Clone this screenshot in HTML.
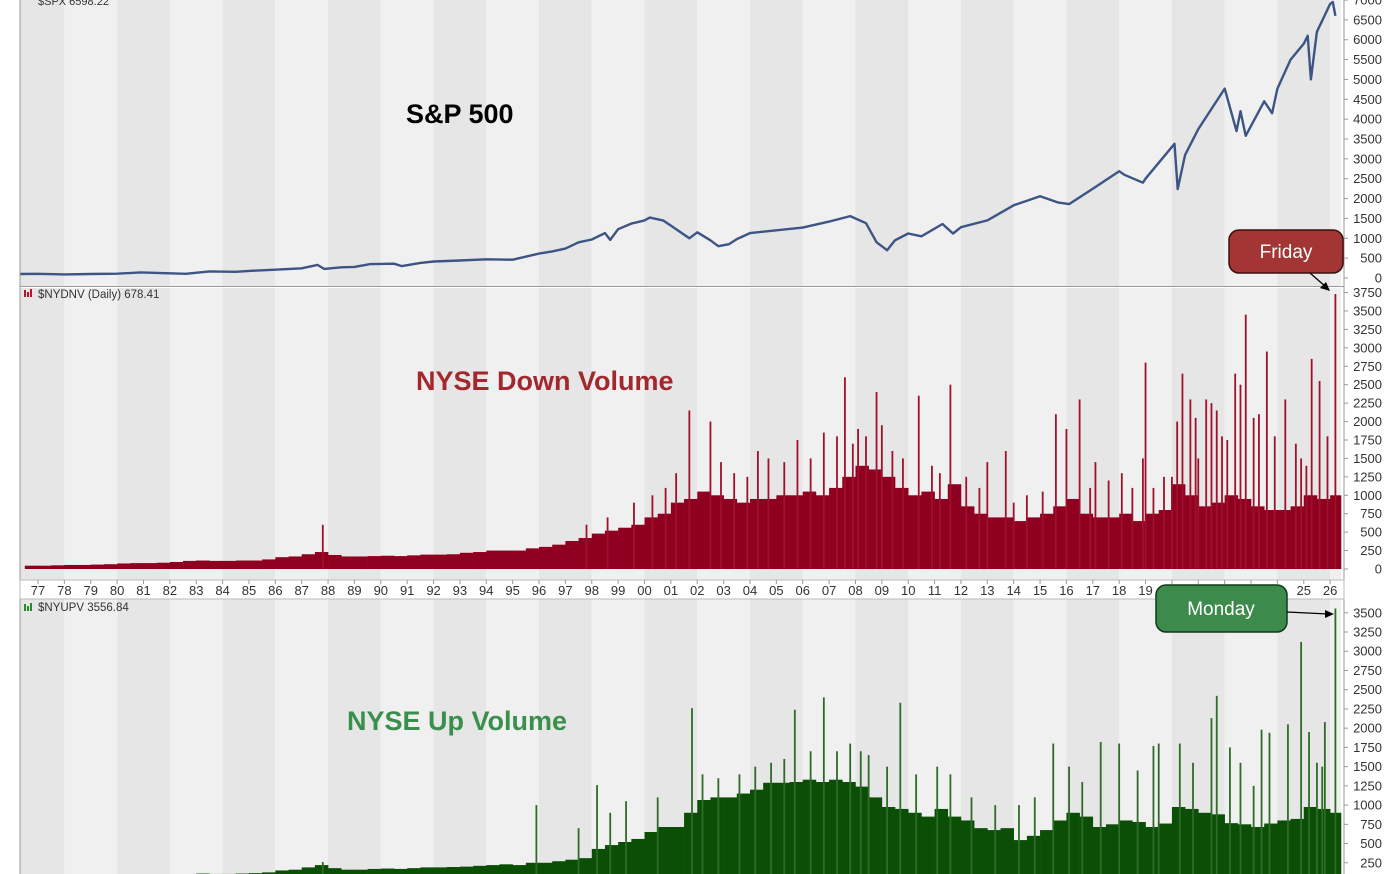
<!DOCTYPE html>
<html><head><meta charset="utf-8"><style>
html,body{margin:0;padding:0;background:#fff;}
svg{display:block;font-family:"Liberation Sans",Arial,sans-serif;}
</style></head><body>
<svg id="chart" width="1400" height="874" viewBox="0 0 1400 874" xmlns="http://www.w3.org/2000/svg">
<g id="bands"></g>
<g id="spx"></g>
<g id="down"></g>
<g id="up"></g>
<g id="axes"></g>
<text x="406" y="123" font-size="27" font-weight="bold" fill="#000">S&amp;P 500</text>
<text x="416" y="390" font-size="27" font-weight="bold" fill="#a3282d">NYSE Down Volume</text>
<text x="347" y="730" font-size="27" font-weight="bold" fill="#3a8f4c">NYSE Up Volume</text>
<g>
<rect x="1229" y="230" width="114" height="43" rx="10" fill="#a33535" stroke="#3a1010" stroke-width="1.5"/>
<text x="1286" y="258" font-size="19" fill="#fff" text-anchor="middle">Friday</text>
<line x1="1310" y1="273" x2="1326" y2="287" stroke="#000" stroke-width="1.3"/>
<polygon points="1330,291 1320,288 1326,282" fill="#000"/>
</g>
<g>
<rect x="1156" y="585" width="131" height="47" rx="10" fill="#3c8a4c" stroke="#103a18" stroke-width="1.5"/>
<text x="1221" y="615" font-size="19" fill="#fff" text-anchor="middle">Monday</text>
<line x1="1287" y1="612" x2="1328" y2="614" stroke="#000" stroke-width="1.3"/>
<polygon points="1334,614 1325,610 1325,618" fill="#000"/>
</g>
</svg>
<script>
const spxDates=[1976.3,1977,1978,1979,1980,1980.9,1982.6,1983.5,1984.5,1985,1986,1987,1987.6,1987.85,1988.5,1989,1989.6,1990.5,1990.8,1991.5,1992,1993,1994,1995,1996,1996.5,1997,1997.5,1998,1998.5,1998.7,1999,1999.5,2000,2000.2,2000.7,2001,2001.7,2002,2002.5,2002.8,2003.2,2003.5,2004,2005,2006,2007,2007.8,2008.4,2008.8,2009.2,2009.5,2010,2010.5,2011.3,2011.7,2012,2013,2014,2015,2015.7,2016.1,2017,2018,2018.2,2018.9,2019,2020.1,2020.22,2020.5,2021,2022,2022.45,2022.6,2022.8,2023.5,2023.8,2024,2024.5,2025,2025.15,2025.27,2025.5,2026,2026.1,2026.2];
const spxValues=[100,105,90,100,108,140,105,165,155,180,210,245,330,230,270,280,350,360,300,380,415,440,470,460,615,670,740,900,970,1130,960,1230,1370,1450,1520,1450,1320,1000,1150,950,800,850,980,1130,1200,1270,1420,1560,1380,900,700,950,1120,1050,1360,1120,1280,1450,1830,2060,1900,1860,2250,2690,2600,2400,2500,3380,2240,3100,3750,4770,3700,4200,3580,4450,4150,4770,5500,5900,6100,5000,6200,6900,6950,6600];
const spxTicks=[0,500,1000,1500,2000,2500,3000,3500,4000,4500,5000,5500,6000,6500,7000];
const volStart=1976.5;
const downBase=[45,45,50,55,55,60,65,75,80,80,85,95,110,115,110,110,115,115,130,160,170,200,230,190,170,170,175,180,175,185,195,195,200,220,230,250,250,250,280,300,330,380,420,480,520,560,600,700,750,900,950,1050,1000,950,900,950,950,1000,1000,1050,1000,1100,1250,1400,1350,1250,1100,1000,1050,950,1150,850,750,700,700,650,700,750,850,950,750,700,700,750,650,750,800,1150,1000,850,900,1000,950,850,800,800,850,1000,950,1000];
const downSpikes=[[1987.8,600],[1997.8,600],[1998.6,700],[2000.3,1000],[2001.7,2150],[2002.5,2000],[2004.3,1600],[2005.8,1750],[2006.8,1850],[2007.3,1800],[2007.6,2600],[2008.1,1900],[2008.8,2400],[2009.0,1950],[2010.4,2350],[2011.6,2500],[2013.0,1450],[2013.7,1600],[2014.0,900],[2015.6,2100],[2016.0,1900],[2016.5,2300],[2017.1,1450],[2017.6,1200],[2018.1,1300],[2018.9,1500],[2019.0,2800],[2019.3,1100],[2020.2,2000],[2020.4,2650],[2020.7,2300],[2020.9,2050],[2021.3,2300],[2021.5,2250],[2021.7,2150],[2022.4,2650],[2022.6,2500],[2022.8,3450],[2023.1,2050],[2023.3,2100],[2023.6,2950],[2024.3,2300],[2025.3,2850],[2025.6,2550],[2025.9,1800],[2026.2,3730],
[1999.6,900],[2000.8,1100],[2001.2,1300],[2002.9,1450],[2003.4,1300],[2003.9,1250],[2004.7,1500],[2005.3,1450],[2006.3,1500],[2007.9,1700],[2008.4,1800],[2009.4,1600],[2009.8,1500],[2010.9,1400],[2011.2,1300],[2012.2,1250],[2012.7,1100],[2014.5,1000],[2015.1,1050],[2016.9,1100],[2018.5,1100],[2019.7,1250],[2020.0,1250],[2021.0,1500],[2021.9,1800],[2022.1,1750],[2023.9,1800],[2024.7,1700],[2024.9,1500],[2025.1,1400]];
const downTicks=[0,250,500,750,1000,1250,1500,1750,2000,2250,2500,2750,3000,3250,3500,3750];
const upBase=[40,40,45,50,50,55,60,70,75,75,80,90,100,110,105,105,110,115,125,150,160,190,220,180,160,160,170,175,170,180,190,190,195,200,210,220,230,220,250,250,270,290,310,430,480,520,560,650,715,715,900,1066,1100,1100,1150,1200,1290,1290,1300,1330,1300,1330,1300,1240,1100,975,950,900,850,950,850,800,700,675,700,545,600,675,800,900,850,715,750,800,780,715,760,975,950,900,880,765,750,715,760,800,820,975,950,900];
const upSpikes=[[1987.8,260],[1995.9,1000],[1998.2,1260],[1999.3,1050],[2001.8,2260],[2005.7,2240],[2006.8,2400],[2007.3,1700],[2008.5,1650],[2009.7,2330],[2015.5,1800],[2017.3,1820],[2019.3,1770],[2019.5,1800],[2021.5,2130],[2021.7,2420],[2022.2,1750],[2023.4,1980],[2023.7,1940],[2024.4,2050],[2024.9,3120],[2025.8,2080],[2026.2,3556],
[1997.5,700],[1998.7,900],[2000.5,1100],[2002.2,1400],[2002.8,1350],[2003.6,1400],[2004.2,1500],[2004.8,1550],[2005.3,1600],[2006.3,1700],[2007.8,1800],[2008.2,1700],[2009.2,1500],[2010.3,1400],[2011.1,1500],[2011.6,1400],[2012.4,1100],[2013.3,1000],[2014.2,1000],[2014.8,1100],[2016.1,1500],[2016.6,1300],[2018.0,1800],[2018.7,1450],[2020.3,1800],[2020.8,1550],[2022.6,1550],[2023.1,1250],[2025.2,1950],[2025.5,1550],[2025.7,1500]];
const upTicks=[250,500,750,1000,1250,1500,1750,2000,2250,2500,2750,3000,3250,3500];
const years=[77,78,79,80,81,82,83,84,85,86,87,88,89,90,91,92,93,94,95,96,97,98,99,'00','01','02','03','04','05','06','07','08','09',10,11,12,13,14,15,16,17,18,19,20,21,22,23,24,25,26];

const NS='http://www.w3.org/2000/svg';
const L=20,R=1341;
const X=yr=>Math.max(L,Math.min(R,38+(yr-1977)*26.37));
const ySpx=v=>278-v*0.03971;
const yDown=v=>569-v*0.07372;
const yUp=v=>882-v*0.07692;
function mk(tag,parent,attrs){const e=document.createElementNS(NS,tag);for(const k in attrs)e.setAttribute(k,attrs[k]);parent.appendChild(e);return e;}
const bands=document.getElementById('bands');
const panels=[[0,286],[288,580],[599,874]];
panels.forEach(p=>{
  for(let y=1976;y<2028;y+=2){
    const x1=X(y),x2=X(y+2);
    const r=mk('rect',bands,{x:x1,y:p[0],width:Math.max(0,x2-x1),height:p[1]-p[0],fill:((y/2)%2===0)?'#e6e6e6':'#f0f0f0'});
    
    
  }
});
const spx=document.getElementById('spx');
let d='';spxDates.forEach((t,i)=>{d+=(i?'L':'M')+X(t).toFixed(1)+','+ySpx(spxValues[i]).toFixed(1);});
const line=mk('path',spx,{d:d,fill:'none',stroke:'#3d5585','stroke-width':2.4,'stroke-linejoin':'round'});


const lg1=mk('text',spx,{x:38,y:5,'font-size':11,fill:'#333'});lg1.textContent='$SPX 6598.22';


function volPanel(g,base,spikes,yf,fill,spColor){
  base.forEach((v,i)=>{
    const t=volStart+i/2;const x1=X(t),x2=X(t+0.5);
    const r=mk('rect',g,{x:x1,y:yf(v),width:Math.max(0,x2-x1+0.3),height:yf(0)-yf(v),fill:fill});
    
    
  });
  spikes.forEach(s=>{
    const r=mk('rect',g,{x:X(s[0])-0.9,y:yf(s[1]),width:1.8,height:yf(0)-yf(s[1]),fill:spColor});
    
    
  });
}
volPanel(document.getElementById('down'),downBase,downSpikes,yDown,'#8f0020','#a0102a');
volPanel(document.getElementById('up'),upBase,upSpikes,yUp,'#0b4f06','#2e6b28');
const ax=document.getElementById('axes');
function tick(v,yf,top,bot){const y=yf(v);if(y<top-2||y>bot)return;
  mk('line',ax,{x1:1344,x2:1348,y1:y,y2:y,stroke:'#999'});
  const t=mk('text',ax,{x:1382,y:y+4.5,'font-size':13,fill:'#333','text-anchor':'end'});t.textContent=v;
  
  
}
spxTicks.forEach(v=>tick(v,ySpx,0,284));
downTicks.forEach(v=>tick(v,yDown,290,578));
upTicks.forEach(v=>tick(v,yUp,600,874));
mk('line',ax,{x1:1344,x2:1344,y1:0,y2:874,stroke:'#999'});
mk('line',ax,{x1:20,x2:20,y1:0,y2:874,stroke:'#999'});
mk('line',ax,{x1:20,x2:1344,y1:286.5,y2:286.5,stroke:'#999'});
mk('rect',ax,{x:20,y:580,width:1324,height:19,fill:'#fff',stroke:'#bbb'});
years.forEach((yl,i)=>{const x=X(1977+i);
  mk('line',ax,{x1:x,x2:x,y1:580,y2:584,stroke:'#999'});
  const t=mk('text',ax,{x:x,y:595,'font-size':13,fill:'#333','text-anchor':'middle'});t.textContent=yl;
  
  
});
mk('rect',ax,{x:24,y:290,width:2,height:7,fill:'#c0102a'});mk('rect',ax,{x:27,y:292,width:2,height:5,fill:'#c0102a'});mk('rect',ax,{x:30,y:289,width:2,height:8,fill:'#c0102a'});
const lg2=mk('text',ax,{x:38,y:298,'font-size':11.5,fill:'#333'});lg2.textContent='$NYDNV (Daily) 678.41';


mk('rect',ax,{x:24,y:604,width:2,height:7,fill:'#2a8a2a'});mk('rect',ax,{x:27,y:606,width:2,height:5,fill:'#2a8a2a'});mk('rect',ax,{x:30,y:603,width:2,height:8,fill:'#2a8a2a'});
const lg3=mk('text',ax,{x:38,y:611,'font-size':11.5,fill:'#333'});lg3.textContent='$NYUPV 3556.84';


</script>
</body></html>
